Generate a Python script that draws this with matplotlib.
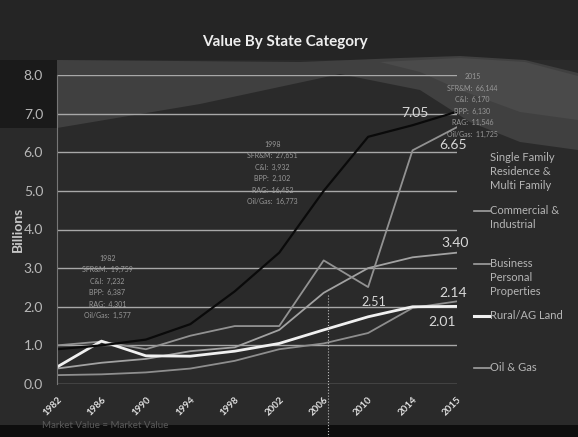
import numpy as np
import matplotlib.pyplot as plt
from matplotlib.patches import Polygon

# Data (billions)
years = ['1982', '1986', '1990', '1994', '1998', '2002', '2006', '2010', '2014', '2015']
sfr = [0.90, 1.00, 1.15, 1.55, 2.40, 3.40, 5.00, 6.40, 6.70, 7.05]
comm = [1.00, 1.10, 0.90, 1.25, 1.50, 1.50, 3.20, 2.51, 6.05, 6.65]
bpp = [0.40, 0.55, 0.65, 0.85, 0.95, 1.40, 2.36, 3.00, 3.28, 3.40]
rural = [0.44, 1.11, 0.73, 0.72, 0.85, 1.05, 1.40, 1.74, 2.00, 2.01]
oilgas = [0.23, 0.25, 0.30, 0.40, 0.60, 0.90, 1.05, 1.32, 1.97, 2.14]

legend_labels = ['Single Family\nResidence &\nMulti Family', 'Commercial &\nIndustrial',
                 'Business\nPersonal\nProperties', 'Rural/AG Land', 'Oil & Gas']
end_labels = ['7.05', '6.65', '3.40', '2.01', '2.14']

plt.rcParams['font.family'] = ['Lato', 'DejaVu Sans']

W, H = 578, 437
fig = plt.figure(figsize=(W / 100, H / 100), dpi=100)
fig.patch.set_facecolor('#2a2a2a')


def fx(px):
    return px / W


def fy(py):
    return 1 - py / H


def add_poly(pts, color):
    fig.patches.append(Polygon([(fx(a), fy(b)) for a, b in pts], closed=True,
                               transform=fig.transFigure, facecolor=color,
                               edgecolor='none', zorder=-10))


# slide background: dark title area, lighter swoosh behind the top of the plot
add_poly([(0, 0), (W, 0), (W, 60), (0, 60)], '#252525')
add_poly([(57, 60), (300, 62), (400, 58), (460, 56), (525, 60), (578, 73), (578, 150),
          (520, 142), (470, 122), (420, 90), (340, 74), (200, 104), (57, 128)], '#404040')
add_poly([(380, 62), (460, 58), (525, 62), (578, 76), (578, 120), (520, 112),
          (460, 90), (420, 72)], '#4a4a4a')
add_poly([(0, 60), (57, 60), (57, 128), (0, 128)], '#1a1a1a')
add_poly([(0, 425), (W, 425), (W, H), (0, H)], '#0e0e0e')

ax = fig.add_axes([fx(57), fy(384), fx(457) - fx(57), fy(75) - fy(384)])
ax.set_facecolor('none')
x = np.arange(len(years))

ax.plot(x, oilgas, color='#8e8e8e', lw=1.3)
ax.plot(x, bpp, color='#a2a2a2', lw=1.3)
ax.plot(x, comm, color='#929292', lw=1.3)
ax.plot(x, rural, color='#f0f0f0', lw=2.0)
ax.plot(x, sfr, color='#0a0a0a', lw=1.6)

ax.set_xlim(0, len(years) - 1)
ax.set_ylim(0, 8)
ax.set_yticks(np.arange(0, 9, 1))
ax.set_yticklabels([f'{v:.1f}' for v in range(9)], color='#b8b8b8', fontsize=10)
ax.set_xticks(x)
ax.set_xticklabels(years, rotation=45, ha='right', rotation_mode='anchor',
                   color='#e0e0e0', fontsize=7, fontweight='bold')
ax.grid(axis='y', color='#a8a8a8', lw=1)
ax.grid(axis='x', visible=False)
ax.tick_params(axis='y', length=0, pad=10)
ax.tick_params(axis='x', length=0, pad=8)
for s in ['top', 'right', 'bottom']:
    ax.spines[s].set_visible(False)
ax.spines['left'].set_color('#777777')
ax.set_ylabel('Billions', color='#c8c8c8', fontsize=10, fontweight='bold', labelpad=0)

# end value labels
series = [sfr, comm, bpp, rural, oilgas]
offsets = [(-40, -4), (-13, -16), (-11, 4), (-21, -14), (-13, 3)]
for s, lab, (dx, dy) in zip(series, end_labels, offsets):
    ax.annotate(lab, (x[-1], s[-1]), xytext=(dx, dy), textcoords='offset points',
                color='#d8d8d8', fontsize=10, annotation_clip=False)
ax.annotate('2.51', (x[7], comm[7]), xytext=(-5, -14), textcoords='offset points',
            color='#d8d8d8', fontsize=9)
ax.plot([6.1, 6.1], [2.3, -1.4], color='#bbbbbb', lw=0.8, ls=':', clip_on=False)

# small year summary boxes
boxes = [
    (1.13, 3.35, '1982\nSFR&M:  19,759\nC&I:  7,232\nBPP:  6,387\nRAG:  4,301\nOil/Gas:  1,577'),
    (4.85, 6.3, '1998\nSFR&M:  27,651\nC&I:  3,932\nBPP:  2,102\nRAG:  16,452\nOil/Gas:  16,773'),
    (9.35, 8.05, '2015\nSFR&M:  66,144\nC&I:  6,170\nBPP:  6,130\nRAG:  11,546\nOil/Gas:  11,725'),
]
for bx, by, txt in boxes:
    ax.text(bx, by, txt, ha='center', va='top', color='#9a9a9a', fontsize=5,
            linespacing=1.75, clip_on=False)

# legend on the right
fig.text(fx(490), fy(152), legend_labels[0], color='#b5b5b5', fontsize=8, va='top',
         linespacing=1.35)
stubs = [(205, legend_labels[1], '#a0a0a0', 1.2),
         (258, legend_labels[2], '#a0a0a0', 1.2),
         (310, legend_labels[3], '#f0f0f0', 2.2),
         (362, legend_labels[4], '#a0a0a0', 1.2)]
for py, lab, col, lw in stubs:
    fig.lines.append(plt.Line2D([fx(474), fx(490)], [fy(py + 6), fy(py + 6)],
                                transform=fig.transFigure, color=col, lw=lw))
    fig.text(fx(490), fy(py), lab, color='#b5b5b5', fontsize=8, va='top', linespacing=1.35)

fig.text(fx(285), fy(42), 'Value By State Category', ha='center', va='center',
         color='#eeeeee', fontsize=11, fontweight='bold')
fig.text(fx(42), fy(426), 'Market Value = Market Value', color='#5a5a5a', fontsize=7,
         va='center')

fig.savefig('out.png', dpi=100, facecolor=fig.get_facecolor())
